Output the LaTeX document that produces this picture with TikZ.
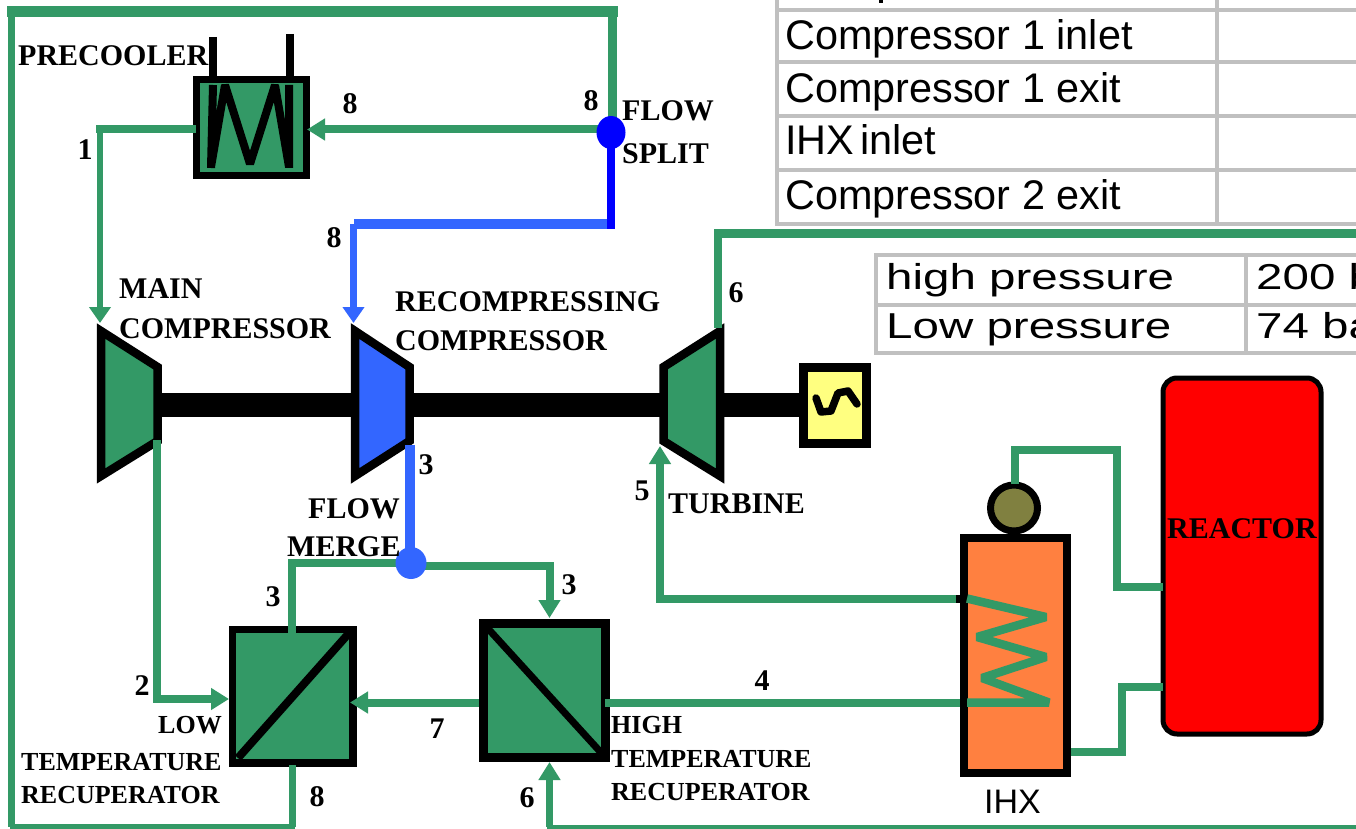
\documentclass[tikz,border=0pt]{standalone}
\usepackage{fontspec}
\setmainfont{Liberation Serif}
\newfontfamily\tabfont{Liberation Sans}
\newfontfamily\widefont[FakeStretch=1.32]{Liberation Sans}
\usetikzlibrary{arrows.meta,shapes.geometric}
\definecolor{pgreen}{HTML}{339966}
\definecolor{pblue}{HTML}{3366FF}
\definecolor{sblue}{HTML}{0000FF}
\definecolor{porange}{HTML}{FF8040}
\definecolor{pyellow}{HTML}{FFFF80}
\definecolor{polive}{HTML}{808040}
\definecolor{pgrid}{HTML}{C0C0C0}
\tikzset{
  x=1pt,y=-1pt,
  vessel/.style={draw=black,inner sep=0pt,rectangle},
  flow/.style={draw=pgreen,line width=#1},
  flow/.default=8pt,
  recomp/.style={draw=pblue,line width=#1},
  recomp/.default=8pt,
  tip/.style={-{Triangle[length=#1,width=21pt]}},
  tip/.default=18pt,
  comp/.style={draw=black,line width=8.5pt,miter limit=10},
  lab/.style={anchor=base west,inner sep=0pt,font=\fontsize{30}{32}\selectfont\bfseries},
  smalllab/.style={anchor=base west,inner sep=0pt,font=\fontsize{26}{28}\selectfont\bfseries},
  num/.style={inner sep=0pt,font=\fontsize{30}{32}\selectfont\bfseries},
  gridl/.style={draw=pgrid,line width=4pt},
  cell/.style={anchor=base west,inner sep=0pt,font=\fontsize{41.4}{43}\selectfont\tabfont},
  wcell/.style={anchor=base west,inner sep=0pt,font=\fontsize{36}{38}\selectfont\widefont},
}
\begin{document}
\begin{tikzpicture}
\useasboundingbox (0,0) rectangle (1356,829);
\fill[white] (0,0) rectangle (1356,829);
\begin{scope}
\clip (0,0) rectangle (1356,829);
% tables
\draw[gridl] (776.5,0) -- (776.5,226);
\draw[gridl] (1216.5,0) -- (1216.5,226);
\foreach \yy in {10,62,116,170,224} \draw[gridl] (775,\yy) -- (1356,\yy);
\fill[black] (879,0) rectangle (883,3);
\node[cell] (t1) at (785,50) {Compressor 1 inlet};
\node[cell] (t2) at (785,103) {Compressor 1 exit};
\node[cell] (t3) at (785,155) {IHX\kern6pt inlet};
\node[cell] (t4) at (785,209) {Compressor 2 exit};
\draw[gridl] (876,253) -- (876,354);
\draw[gridl] (1246,253) -- (1246,354);
\foreach \yy in {255,304.5,352.5} \draw[gridl] (874,\yy) -- (1356,\yy);
\node[wcell] (t5) at (886,289) {high pressure};
\node[wcell] (t6) at (886,338) {Low pressure};
\node[wcell] (t7) at (1256,289) {200 b};
\node[wcell] (t8) at (1256,338) {74 ba};
% way points
\coordinate (sTop) at (612,12);
\coordinate (nw) at (12,12);
\coordinate (sw) at (12,826.5);
\coordinate (ltrS) at (292,765);
\coordinate (ltrSb) at (292,826.5);
\coordinate (ltrN) at (292,634);
\coordinate (ltrNt) at (292,562.5);
\coordinate (mainIn) at (100,323);
\coordinate (c1) at (100,129.5);
\coordinate (pcW) at (192,129.5);
\coordinate (pcE) at (307,129.5);
\coordinate (spW) at (600,129.5);
\coordinate (sp2) at (611,224);
\coordinate (recIn) at (353.5,323);
\coordinate (rc) at (353.5,224);
\coordinate (mainOut) at (157,440);
\coordinate (c2) at (157,699);
\coordinate (ltrW) at (229,699);
\coordinate (recOut) at (410,445);
\coordinate (mrE) at (420,566);
\coordinate (c3) at (549.5,566);
\coordinate (htrN) at (549.5,618);
\coordinate (mrW) at (400,562.5);
\coordinate (htrW) at (479,702.5);
\coordinate (ltrE) at (350,702.5);
\coordinate (htrE) at (605,702.5);
\coordinate (ihxW2) at (960,702.5);
\coordinate (htrS) at (549.5,762);
\coordinate (c4) at (549.5,827);
\coordinate (c5) at (1356,827);
\coordinate (turOut) at (718,328);
\coordinate (c6) at (718,233.5);
\coordinate (c7) at (1356,233.5);
\coordinate (turIn) at (660,446);
\coordinate (c8) at (660,598.5);
\coordinate (ihxW1) at (960,598.5);
\coordinate (shaftW) at (160,405);
\coordinate (shaftE) at (800,405);
% shaft
\draw[black,line width=24pt] (shaftW) -- (shaftE);
% rotating machines
\path[comp,fill=pgreen] (101,331) -- (157.5,367) -- (157.5,441) -- (101,476) -- cycle;
\path[comp,fill=pblue] (355,331) -- (409.5,367) -- (409.5,441) -- (355,476) -- cycle;
\path[comp,fill=pgreen] (663.5,367) -- (720,331) -- (720,476) -- (663.5,441) -- cycle;
% generator
\node[vessel,fill=pyellow,line width=9pt,minimum width=63pt,minimum height=76pt] (gen) at (835,405.5) {};
\draw[black,line width=7.5pt,line cap=round,line join=round] (816,398) -- (821,412) -- (831,411) -- (838,393) -- (848,391) -- (857,404);
% precooler
\draw[black,line width=8pt] (213,37) -- (213,80);
\draw[black,line width=8pt] (289.5,34) -- (289.5,80);
\node[vessel,fill=pgreen,line width=7pt,minimum width=110pt,minimum height=96pt] (precooler) at (251,128) {};
\draw[black,line width=8pt,line join=bevel] (211,168) -- (213,85) (211,167) -- (225,85) -- (250,164) -- (275,85) -- (289,167) (289,85) -- (289,168);
% recuperators
\node[vessel,fill=pgreen,line width=7.5pt,minimum width=120.5pt,minimum height=133.5pt] (ltr) at (292.75,696.25) {};
\draw[black,line width=8pt] (238,758) -- (350,632);
\node[vessel,fill=pgreen,line width=9pt,minimum width=122pt,minimum height=134.5pt] (htr) at (544,690.25) {};
\draw[black,line width=7pt] (482,622) -- (605,757);
% IHX and reactor
\node[ellipse,draw=black,fill=polive,line width=7pt,inner sep=0pt,minimum width=47pt,minimum height=46pt] (pump) at (1014,508) {};
\node[vessel,fill=porange,line width=8pt,minimum width=103.5pt,minimum height=235pt] (ihx) at (1015.25,655) {};
\node[vessel,fill=red,line width=5pt,rounded corners=14pt,minimum width=158pt,minimum height=356pt] (reactor) at (1242,556) {};
\coordinate (pumpN) at (1015,484);
\coordinate (c9) at (1015,449.5);
\coordinate (c10) at (1117,449.5);
\coordinate (c11) at (1117,586.5);
\coordinate (rxW1) at (1163,586.5);
\coordinate (ihxE) at (1071,751.5);
\coordinate (c12) at (1122,751.5);
\coordinate (c13) at (1122,686.5);
\coordinate (rxW2) at (1163,686.5);
\coordinate (z0) at (967,598.5);
\coordinate (z6) at (967,702.5);
% connectors
\draw[flow=9pt] (612,120) -- (sTop);
\draw[flow=11pt,line cap=rect] (sTop) -- (nw);
\draw[flow=7pt] (11.5,7) -- (11.5,827);
\draw[flow=5pt,line cap=rect] (sw) -- (ltrSb);
\draw[flow=7pt] (ltrS) -- (ltrSb);
\draw[flow=8pt,tip] (spW) -- (pcE);
\draw[flow=6.5pt,tip=16pt] (c1) -- (mainIn);
\draw[flow=8pt,line cap=rect] (pcW) -- (c1);
\draw[draw=sblue,line width=8pt] (611,140) -- (611,229);
\draw[recomp=10pt] (607,224) -- (rc);
\draw[recomp=7pt,tip=16pt] (rc) -- (recIn);
\draw[flow=8pt] (mainOut) -- (c2);
\draw[flow=8pt,tip] (153,699) -- (ltrW);
\draw[recomp=10pt] (recOut) -- (410,552);
\draw[flow=8pt] (ltrN) -- (ltrNt);
\draw[flow=8pt,line cap=rect] (ltrNt) -- (mrW);
\draw[flow=8pt,line cap=rect] (mrE) -- (c3);
\draw[flow=8pt,tip] (c3) -- (htrN);
\draw[flow=8pt,tip] (htrW) -- (ltrE);
\draw[flow=8pt] (htrE) -- (ihxW2);
\draw[flow=7pt,tip] (c4) -- (htrS);
\draw[flow=5pt,line cap=rect] (c4) -- (c5);
\draw[flow=8pt] (turOut) -- (c6);
\draw[flow=9pt,line cap=rect] (c6) -- (c7);
\draw[flow=8pt,tip] (c8) -- (turIn);
\draw[flow=8pt,line cap=rect] (c8) -- (ihxW1);
\draw[flow=8pt] (pumpN) -- (c9) -- (c10) -- (c11) -- (rxW1);
\draw[flow=8pt] (ihxE) -- (c12) -- (c13) -- (rxW2);
% stubs on the IHX wall and its coil
\draw[black,line width=8pt] (956,598.5) -- (z0);
\draw[black,line width=8pt] (ihxW2) -- (z6);
\draw[flow=8.5pt,line join=bevel] (z0) -- (1046,617) -- (977,637) -- (1046,657) -- (982,678) -- (1049,702.5) -- (z6);
% junctions
\node[ellipse,fill=sblue,inner sep=0pt,minimum width=29pt,minimum height=33pt] (split) at (611,132.5) {};
\node[ellipse,fill=pblue,inner sep=0pt,minimum width=31pt,minimum height=32pt] (merge) at (411,563) {};
% labels
\node[lab] (lprecooler) at (18,66) {PRECOOLER};
\node[lab] (lmain) at (119,298) {MAIN};
\node[lab] (lmain2) at (119,338) {COMPRESSOR};
\node[lab] (lrec) at (395,311) {RECOMPRESSING};
\node[lab] (lrec2) at (395,350) {COMPRESSOR};
\node[lab] (lflow) at (622,121) {FLOW};
\node[lab] (lsplit) at (622,164) {SPLIT};
\node[lab] (lflow2) at (308,518) {FLOW};
\node[lab] (lmerge) at (287,556) {MERGE};
\node[smalllab] (llow) at (158,733) {LOW};
\node[smalllab] (ltemp) at (21,770) {TEMPERATURE};
\node[smalllab] (lrecu) at (21,803) {RECUPERATOR};
\node[smalllab] (lhigh) at (611,733) {HIGH};
\node[smalllab] (ltemp2) at (611,767) {TEMPERATURE};
\node[smalllab] (lrecu2) at (611,800) {RECUPERATOR};
\node[lab] (lturb) at (668,513) {TURBINE};
\node[lab] (lreact) at (1167,538) {REACTOR};
\node[anchor=base west,inner sep=0pt,font=\fontsize{34}{36}\selectfont\tabfont] (lihx) at (984,813) {IHX};
\node[num] (n1) at (85,150) {1};
\node[num] (n2) at (350,104) {8};
\node[num] (n3) at (591,101) {8};
\node[num] (n4) at (334,238) {8};
\node[num] (n5) at (736,293) {6};
\node[num] (n6) at (426,465) {3};
\node[num] (n7) at (642,491) {5};
\node[num] (n8) at (569,585) {3};
\node[num] (n9) at (273,597) {3};
\node[num] (n10) at (142,686) {2};
\node[num] (n11) at (437,729) {7};
\node[num] (n12) at (762,681) {4};
\node[num] (n13) at (317,797) {8};
\node[num] (n14) at (527,798) {6};
\end{scope}
\end{tikzpicture}
\end{document}
